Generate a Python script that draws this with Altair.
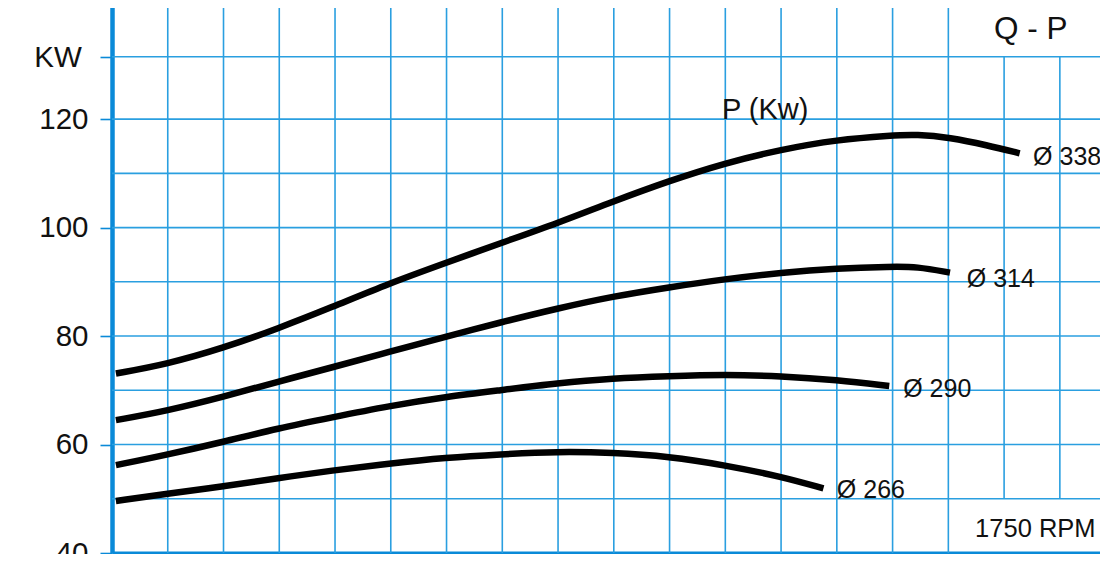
import altair as alt
import pandas as pd

# x is measured in grid divisions (flow axis, unlabeled); y is power in KW
u_338 = [0.07, 0.98, 2.0, 2.98, 3.94, 4.97, 5.99, 6.96, 7.99, 8.98, 9.99, 10.99, 12.0, 13.0, 13.98, 14.43, 15.03, 15.69, 16.28]
p_338 = [73.1, 74.8, 77.8, 81.4, 85.3, 89.7, 93.5, 97.1, 100.8, 104.8, 108.6, 111.9, 114.4, 116.2, 117.0, 117.2, 116.6, 115.2, 113.7]

u_314 = [0.07, 0.98, 2.0, 2.98, 3.94, 4.97, 5.99, 6.96, 7.99, 8.98, 9.99, 10.99, 12.0, 13.0, 13.98, 14.43, 15.03]
p_314 = [64.5, 66.2, 68.8, 71.6, 74.2, 77.1, 79.9, 82.5, 85.1, 87.3, 89.0, 90.5, 91.7, 92.5, 92.8, 92.8, 91.7]

u_290 = [0.07, 0.98, 2.0, 2.98, 3.94, 4.97, 5.99, 6.96, 7.99, 8.98, 9.99, 10.99, 12.0, 13.0, 13.94]
p_290 = [56.2, 58.1, 60.5, 63.0, 65.0, 67.1, 68.8, 70.0, 71.3, 72.2, 72.6, 72.9, 72.6, 71.9, 70.8]

u_266 = [0.07, 0.98, 2.0, 2.98, 3.94, 4.97, 5.99, 6.96, 7.99, 8.98, 9.99, 10.99, 12.0, 12.76]
p_266 = [49.6, 50.9, 52.3, 53.8, 55.2, 56.5, 57.6, 58.2, 58.7, 58.5, 57.8, 56.2, 54.1, 51.9]

series_names = ["338", "314", "290", "266"]

# Grid
v_grid_full = list(range(1, 16))
v_grid_short = [16, 17]
h_grid = [50, 60, 70, 80, 90, 100, 110, 120, 131.5]

# Axis ticks / labels
tick_values = [40, 60, 80, 100, 120, 131.5, 142.7]
tick_labels = ["40", "60", "80", "100", "120", "", "140"]

# Annotations
ann_text = ["Q - P", "P (Kw)", "Ø 338", "Ø 314", "Ø 290", "Ø 266", "1750 RPM", "KW"]
ann_u = [15.82, 10.94, 16.52, 15.33, 14.19, 13.0, 15.48, -0.54]
ann_p = [136.5, 121.7, 113.1, 90.6, 70.2, 51.7, 44.5, 131.2]
ann_size = [31.5, 29, 25, 25, 25, 25, 25.5, 29.5]
ann_align = ["left", "left", "left", "left", "left", "left", "left", "right"]

X_DOMAIN = [0, 17.72]
Y_DOMAIN = [40, 142.7]
GRID = "#2a9fe0"
AXIS = "#0a8ad8"
FONT = "Liberation Sans"

rows = []
for name, us, ps in zip(series_names, [u_338, u_314, u_290, u_266], [p_338, p_314, p_290, p_266]):
    for i, (u, p) in enumerate(zip(us, ps)):
        rows.append({"series": name, "u": u, "p": p, "i": i})
curves = pd.DataFrame(rows)

vrows = [{"u": u, "y1": Y_DOMAIN[0], "y2": Y_DOMAIN[1]} for u in v_grid_full]
vrows += [{"u": u, "y1": 50, "y2": 131.5} for u in v_grid_short]
vgrid = pd.DataFrame(vrows)
hgrid = pd.DataFrame([{"p": p, "x1": X_DOMAIN[0], "x2": X_DOMAIN[1]} for p in h_grid])
ann = pd.DataFrame({"t": ann_text, "u": ann_u, "p": ann_p, "s": ann_size, "a": ann_align})

label_expr = ""
for v, l in zip(tick_values, tick_labels):
    label_expr += f"abs(datum.value - {v}) < 0.01 ? '{l}' : "
label_expr += "datum.label"

xscale = alt.Scale(domain=X_DOMAIN, nice=False, zero=False)
yscale = alt.Scale(domain=Y_DOMAIN, nice=False, zero=False)

xaxis = alt.Axis(labels=False, ticks=False, grid=False, title=None,
                 domainColor=AXIS, domainWidth=4)
yaxis = alt.Axis(values=tick_values, labelExpr=label_expr, grid=False, title=None,
                 domainColor=AXIS, domainWidth=4.5, tickColor=AXIS, tickWidth=1.6,
                 tickSize=12, labelPadding=12, labelFontSize=29.5, labelFont=FONT,
                 labelColor="#111111", labelOverlap=False, labelFlush=False)

vlines = alt.Chart(vgrid).mark_rule(color=GRID, strokeWidth=1.6).encode(
    x=alt.X("u:Q", scale=xscale, axis=xaxis),
    y=alt.Y("y1:Q", scale=yscale, axis=yaxis),
    y2="y2:Q",
)
hlines = alt.Chart(hgrid).mark_rule(color=GRID, strokeWidth=1.6).encode(
    y=alt.Y("p:Q", scale=yscale),
    x=alt.X("x1:Q", scale=xscale),
    x2="x2:Q",
)
lines = alt.Chart(curves).mark_line(color="black", strokeWidth=6.5, interpolate="basis").encode(
    x=alt.X("u:Q", scale=xscale),
    y=alt.Y("p:Q", scale=yscale),
    detail="series:N",
    order="i:Q",
)
text_left = alt.Chart(ann).transform_filter("datum.a == 'left'").mark_text(
    align="left", baseline="middle", font=FONT, color="#111111").encode(
    x=alt.X("u:Q", scale=xscale),
    y=alt.Y("p:Q", scale=yscale),
    text="t:N",
    size=alt.Size("s:Q", scale=None, legend=None),
)
text_right = alt.Chart(ann).transform_filter("datum.a == 'right'").mark_text(
    align="right", baseline="middle", font=FONT, color="#111111").encode(
    x=alt.X("u:Q", scale=xscale),
    y=alt.Y("p:Q", scale=yscale),
    text="t:N",
    size=alt.Size("s:Q", scale=None, legend=None),
)

chart = alt.layer(vlines, hlines, lines, text_left, text_right).properties(
    width=988, height=557,
    autosize="none",
    padding={"left": 104, "top": -12, "right": 0, "bottom": 1},
).configure_view(stroke=None).configure(background="white")

chart.save("out.html", embed_options={"renderer": "svg", "actions": False})
